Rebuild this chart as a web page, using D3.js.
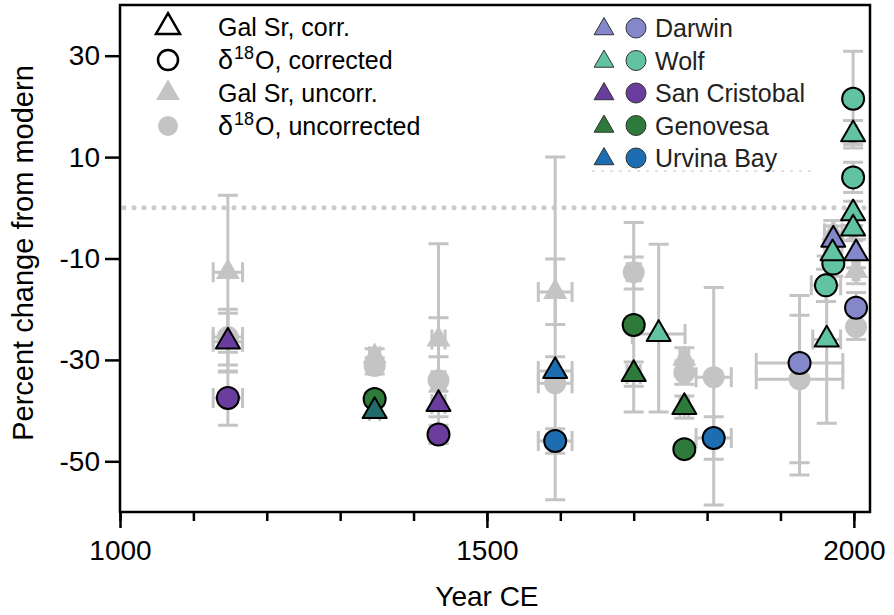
<!DOCTYPE html>
<html>
<head>
<meta charset="utf-8">
<script src="https://cdn.jsdelivr.net/npm/d3@7"></script>
<style>
  body { margin: 0; background: #fff; }
  svg { display: block; font-family: "Liberation Sans", Arial, Helvetica, sans-serif; }
</style>
</head>
<body>
<svg id="chart" width="894" height="615"></svg>
<script>
// sites + colours
var sites = ["Darwin", "Wolf", "San Cristobal", "Genovesa", "Urvina Bay", "Genovesa-b"];
var siteColors = ["#8487ca", "#62c3a2", "#6a3c9d", "#2d7a3b", "#1c6db1", "#216c6b"];
var legendSites = ["Darwin", "Wolf", "San Cristobal", "Genovesa", "Urvina Bay"];

var xTicksMajor = [1000, 1500, 2000];
var xTicksMinor = d3.range(1000, 2001, 100);
var yTicks = [30, 10, -10, -30, -50];

// [site, year, year err, value, low, high]
var srCorrected = [
  ["San Cristobal", 1147, 20, -26.4, -32.2, -20.8],
  ["Genovesa-b", 1347, 7, -40.1, -41.3, -38.9],
  ["San Cristobal", 1434, 9, -38.7, -41.2, -36.2],
  ["Urvina Bay", 1593, 23, -32.2, -35.0, -29.4],
  ["Genovesa", 1700, 9, -32.8, -35.2, -30.4],
  ["Wolf", 1734, 36, -24.9, -40.3, -7.2],
  ["Genovesa", 1769, 6, -39.3, -41.5, -37.1],
  ["Wolf", 1963, 19, -26.0, -42.5, -9.5],
  ["Darwin", 1972, 12, -6.3, -9.0, -3.6],
  ["Wolf", 1971, 8, -9.0, -11.5, -6.5],
  ["Wolf", 1999, 4, 14.5, 11.8, 17.2],
  ["Wolf", 1999, 4, -1.1, -3.5, 1.3],
  ["Wolf", 1999, 4, -4.1, -6.5, -1.7],
  ["Darwin", 2003, 4, -9.0, -11.8, -6.2]
];

var d18oCorrected = [
  ["San Cristobal", 1147, 20, -37.5, -42.9, -32.4],
  ["Genovesa", 1347, 7, -37.7, -38.9, -36.5],
  ["San Cristobal", 1434, 9, -44.7, -46.5, -42.9],
  ["Urvina Bay", 1593, 23, -46.0, -48.4, -43.6],
  ["Genovesa", 1700, 9, -23.1, -40.3, -2.9],
  ["Genovesa", 1769, 6, -47.6, -48.8, -46.4],
  ["Urvina Bay", 1809, 24, -45.4, -49.6, -41.2],
  ["Darwin", 1926, 59, -30.6, -50.3, -17.3],
  ["Wolf", 1962, 20, -15.3, -18.5, -12.1],
  ["Wolf", 1972, 8, -11.0, -13.5, -8.5],
  ["Wolf", 1999, 4, 21.5, 12.5, 30.9],
  ["Wolf", 1999, 4, 6.0, 3.0, 9.0],
  ["Darwin", 2003, 4, -19.7, -22.7, -16.7]
];

// [year, year err, value, low, high]
var srUncorrected = [
  [1147, 20, -12.7, -28.5, 2.5],
  [1347, 7, -29.3, -30.8, -27.8],
  [1434, 9, -26.0, -29.4, -21.7],
  [1593, 23, -16.6, -23.0, -10.1],
  [1769, 6, -29.8, -32.0, -27.6],
  [1972, 12, -5.0, -7.5, -2.5],
  [2003, 4, -12.5, -15.0, -10.0]
];

var d18oUncorrected = [
  [1147, 20, -25.5, -31.0, -20.0],
  [1347, 7, -31.2, -32.8, -29.6],
  [1434, 9, -34.0, -46.4, -7.1],
  [1593, 23, -34.6, -57.6, 10.0],
  [1700, 9, -12.7, -16.0, -9.7],
  [1769, 6, -32.5, -34.8, -30.2],
  [1809, 24, -33.4, -58.6, -15.7],
  [1926, 59, -33.8, -52.7, -21.2],
  [2003, 4, -23.5, -26.0, -21.0]
];

var proxyLabels = [
  ["Gal Sr, corr."],
  ["δ", "18", "O, corrected"],
  ["Gal Sr, uncorr."],
  ["δ", "18", "O, uncorrected"]
];

var gray = "#c4c4c4";

var svg = d3.select("#chart");

var xScale = d3.scaleLinear().domain([1000, 2022]).range([120, 870]);
var yScale = d3.scaleLinear().domain([-60, 40]).range([512, 5]);
var color = d3.scaleOrdinal().domain(sites).range(siteColors);

var triangle = d3.symbol().type(d3.symbolTriangle).size(250);
var triangleSmall = d3.symbol().type(d3.symbolTriangle).size(170);

// zero line (dotted)
svg.append("line")
  .attr("x1", xScale(1000) + 4).attr("x2", xScale(2022) - 4)
  .attr("y1", yScale(0)).attr("y2", yScale(0))
  .attr("stroke", "#cacaca")
  .attr("stroke-width", 5)
  .attr("stroke-linecap", "round")
  .attr("stroke-dasharray", "0,10");

// faint dotted box edge under the site legend
svg.append("line")
  .attr("x1", 592).attr("x2", 812)
  .attr("y1", 171).attr("y2", 171)
  .attr("stroke", "#d8d8d8")
  .attr("stroke-width", 1.5)
  .attr("stroke-dasharray", "3,6");

///////////////////// ERROR BARS
var allRows = srUncorrected.concat(d18oUncorrected)
  .concat(srCorrected.map(d => d.slice(1)))
  .concat(d18oCorrected.map(d => d.slice(1)));

var errG = svg.append("g")
  .attr("stroke", gray)
  .attr("stroke-width", 3)
  .attr("fill", "none");

var cap = 10;
allRows.forEach(function(d) {
  var cx = xScale(d[0]), cy = yScale(d[2]);
  var y0 = yScale(d[3]), y1 = yScale(d[4]);
  var x0 = xScale(d[0] - d[1]), x1 = xScale(d[0] + d[1]);
  var path = d3.path();
  path.moveTo(cx, y0); path.lineTo(cx, y1);
  path.moveTo(cx - cap, y0); path.lineTo(cx + cap, y0);
  path.moveTo(cx - cap, y1); path.lineTo(cx + cap, y1);
  path.moveTo(x0, cy); path.lineTo(x1, cy);
  path.moveTo(x0, cy - cap); path.lineTo(x0, cy + cap);
  path.moveTo(x1, cy - cap); path.lineTo(x1, cy + cap);
  errG.append("path").attr("d", path.toString());
});

///////////////////// UNCORRECTED (gray)
svg.append("g").selectAll("circle")
  .data(d18oUncorrected)
  .enter().append("circle")
  .attr("cx", d => xScale(d[0]))
  .attr("cy", d => yScale(d[2]))
  .attr("r", 11)
  .attr("fill", gray);

svg.append("g").selectAll("path")
  .data(srUncorrected)
  .enter().append("path")
  .attr("d", triangle)
  .attr("transform", d => "translate(" + xScale(d[0]) + "," + yScale(d[2]) + ")")
  .attr("fill", gray);

///////////////////// CORRECTED (coloured)
svg.append("g").selectAll("circle")
  .data(d18oCorrected)
  .enter().append("circle")
  .attr("cx", d => xScale(d[1]))
  .attr("cy", d => yScale(d[3]))
  .attr("r", 11)
  .attr("fill", d => color(d[0]))
  .attr("stroke", "#000")
  .attr("stroke-width", 2);

svg.append("g").selectAll("path")
  .data(srCorrected)
  .enter().append("path")
  .attr("d", triangle)
  .attr("transform", d => "translate(" + xScale(d[1]) + "," + yScale(d[3]) + ")")
  .attr("fill", d => color(d[0]))
  .attr("stroke", "#000")
  .attr("stroke-width", 2)
  .attr("stroke-linejoin", "round");

///////////////////// FRAME + AXES
svg.append("rect")
  .attr("x", xScale(1000)).attr("y", yScale(40))
  .attr("width", xScale(2022) - xScale(1000))
  .attr("height", yScale(-60) - yScale(40))
  .attr("fill", "none")
  .attr("stroke", "#000")
  .attr("stroke-width", 2.5);

var xMinor = svg.append("g")
  .attr("transform", "translate(0," + yScale(-60) + ")")
  .call(d3.axisBottom(xScale).tickValues(xTicksMinor).tickSize(9).tickFormat(""));

var xMajor = svg.append("g")
  .attr("transform", "translate(0," + yScale(-60) + ")")
  .call(d3.axisBottom(xScale).tickValues(xTicksMajor).tickSize(16).tickPadding(12).tickFormat(d => String(d)));

var yAxis = svg.append("g")
  .attr("transform", "translate(" + xScale(1000) + ",0)")
  .call(d3.axisLeft(yScale).tickValues(yTicks).tickSize(15).tickPadding(5).tickFormat(d => String(d)));

[xMinor, xMajor, yAxis].forEach(function(g) {
  g.select(".domain").remove();
  g.selectAll(".tick line").attr("stroke", "#000").attr("stroke-width", 2.5);
  g.selectAll(".tick text")
    .attr("fill", "#000")
    .style("font-family", "'Liberation Sans', Arial, sans-serif")
    .style("font-size", "28px");
});

svg.append("text")
  .attr("transform", "translate(33,253) rotate(-90)")
  .attr("text-anchor", "middle")
  .style("font-size", "29px")
  .text("Percent change from modern");

svg.append("text")
  .attr("x", xScale(1500))
  .attr("y", 606)
  .attr("text-anchor", "middle")
  .style("font-size", "28px")
  .text("Year CE");

///////////////////// LEGENDS
var proxyLegend = svg.append("g");
proxyLabels.forEach(function(lab, i) {
  var cy = 27 + i * 33;
  var row = proxyLegend.append("g").attr("transform", "translate(168," + cy + ")");
  if (i % 2 === 0) {
    row.append("path").attr("d", triangle)
      .attr("fill", i < 2 ? "#fff" : gray)
      .attr("stroke", i < 2 ? "#000" : "none")
      .attr("stroke-width", 2.5);
  } else {
    row.append("circle").attr("r", 10)
      .attr("fill", i < 2 ? "#fff" : gray)
      .attr("stroke", i < 2 ? "#000" : "none")
      .attr("stroke-width", 2.5);
  }
  var t = row.append("text").attr("x", 50).attr("y", 9).style("font-size", "25px").attr("fill", "#000");
  if (lab.length === 1) {
    t.text(lab[0]);
  } else {
    t.append("tspan").style("font-size", "27px").text(lab[0]);
    t.append("tspan").attr("dy", -10).attr("dx", 1).style("font-size", "18px").text(lab[1]);
    t.append("tspan").attr("dy", 10).attr("dx", 1).text(lab[2]);
  }
});

var siteLegend = svg.append("g");
legendSites.forEach(function(s, i) {
  var cy = 28 + i * 32.5;
  var row = siteLegend.append("g").attr("transform", "translate(0," + cy + ")");
  row.append("path").attr("d", triangleSmall)
    .attr("transform", "translate(604,1)")
    .attr("fill", color(s)).attr("stroke", "#333").attr("stroke-width", 1);
  row.append("circle").attr("cx", 636).attr("r", 10)
    .attr("fill", color(s)).attr("stroke", "#333").attr("stroke-width", 1);
  row.append("text").attr("x", 655).attr("y", 9)
    .style("font-size", "25px").attr("fill", "#222").text(s);
});
</script>
</body>
</html>
